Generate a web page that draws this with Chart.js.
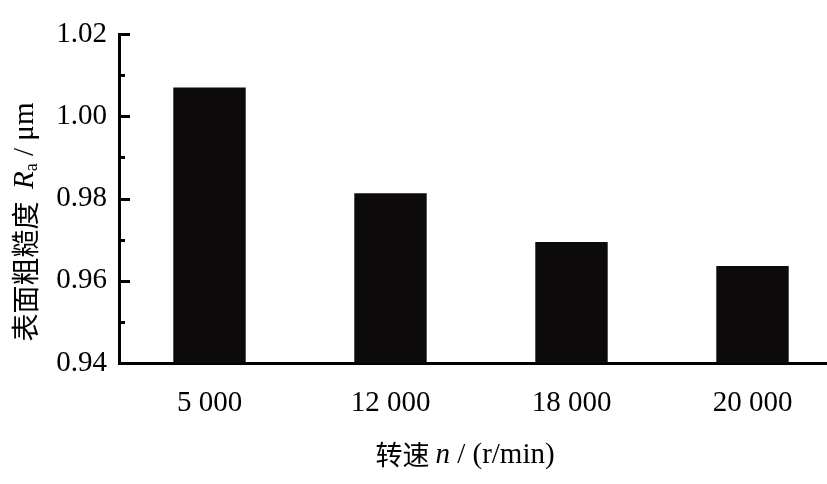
<!DOCTYPE html>
<html>
<head>
<meta charset="utf-8">
<script src="https://cdn.jsdelivr.net/npm/chart.js@4.4.1/dist/chart.umd.min.js"></script>
<style>
  html, body { margin: 0; padding: 0; background: #fff; overflow: hidden; }
  #wrap { width: 860px; height: 484px; position: relative; }
</style>
</head>
<body>
<div id="wrap"><canvas id="roughChart"></canvas></div>
<script>
const categories = ["5 000", "12 000", "18 000", "20 000"];
const roughness = [1.007, 0.9813, 0.9694, 0.9636];
const yMajorTicks = [0.94, 0.96, 0.98, 1.00, 1.02];
const yMinorTicks = [0.95, 0.97, 0.99, 1.01];

const serif = "'Liberation Serif', 'Times New Roman', serif";
const cjk = "'Noto Sans CJK SC', sans-serif";

// inward ticks on the y axis, like the origin-style plot
const innerTicks = {
  id: "innerTicks",
  afterDatasetsDraw(chart) {
    const ctx = chart.ctx;
    const y = chart.scales.y;
    const left = chart.chartArea.left;
    ctx.save();
    ctx.strokeStyle = "#000";
    ctx.lineWidth = 3;
    yMajorTicks.forEach(v => {
      const py = Math.round(y.getPixelForValue(v)) + 0.5;
      ctx.beginPath();
      ctx.moveTo(left, py);
      ctx.lineTo(left + 11, py);
      ctx.stroke();
    });
    yMinorTicks.forEach(v => {
      const py = Math.round(y.getPixelForValue(v)) + 0.5;
      ctx.beginPath();
      ctx.moveTo(left, py);
      ctx.lineTo(left + 6, py);
      ctx.stroke();
    });
    ctx.restore();
  }
};

// axis titles with italic symbols and the subscript
function drawParts(ctx, parts, x, y) {
  let total = 0;
  parts.forEach(p => { ctx.font = p.font; p.w = ctx.measureText(p.text).width; total += p.w; });
  let cx = x - total / 2;
  parts.forEach(p => {
    ctx.font = p.font;
    ctx.fillText(p.text, cx, y + (p.dy || 0));
    cx += p.w;
  });
}

const axisTitles = {
  id: "axisTitles",
  afterDraw(chart) {
    const ctx = chart.ctx;
    ctx.save();
    ctx.fillStyle = "#000";
    ctx.textBaseline = "middle";
    ctx.textAlign = "left";
    drawParts(ctx, [
      { text: "转速 ", font: "27px " + cjk },
      { text: "n", font: "italic 29px " + serif },
      { text: " / (r/min)", font: "29px " + serif }
    ], 465, 455);

    ctx.translate(25, 222);
    ctx.rotate(-Math.PI / 2);
    drawParts(ctx, [
      { text: "表面粗糙度  ", font: "28px " + cjk },
      { text: "R", font: "italic 29px " + serif },
      { text: "a", font: "18px " + serif, dy: 7 },
      { text: " / μm", font: "29px " + serif }
    ], 0, 0);
    ctx.restore();
  }
};

new Chart(document.getElementById("roughChart"), {
  type: "bar",
  data: {
    labels: categories,
    datasets: [{
      data: roughness,
      backgroundColor: "#0c0a0a",
      borderWidth: 0,
      categoryPercentage: 1,
      barPercentage: 0.4
    }]
  },
  options: {
    responsive: true,
    maintainAspectRatio: false,
    animation: false,
    layout: { padding: { top: 34, right: 17, left: 0, bottom: 0 } },
    plugins: { legend: { display: false }, tooltip: { enabled: false } },
    scales: {
      x: {
        grid: { display: true, drawOnChartArea: false, drawTicks: false },
        border: { display: true, color: "#000", width: 3 },
        ticks: { color: "#000", font: { family: serif, size: 29 }, padding: 23, maxRotation: 0 },
        afterFit: s => { s.height = 121; }
      },
      y: {
        min: 0.94,
        max: 1.02,
        beginAtZero: false,
        grid: { display: true, drawOnChartArea: false, drawTicks: false },
        border: { display: true, color: "#000", width: 3 },
        afterBuildTicks: s => { s.ticks = yMajorTicks.map(v => ({ value: v })); },
        ticks: {
          color: "#000",
          font: { family: serif, size: 29 },
          padding: 12,
          callback: v => Number(v).toFixed(2)
        },
        afterFit: s => { s.width = 119; }
      }
    }
  },
  plugins: [innerTicks, axisTitles]
});
</script>
</body>
</html>
